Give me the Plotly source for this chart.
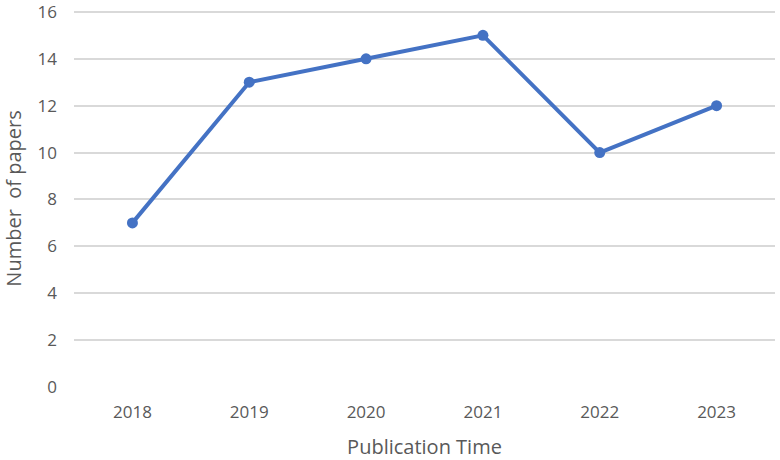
import plotly.graph_objects as go

years = ["2018", "2019", "2020", "2021", "2022", "2023"]
papers = [7, 13, 14, 15, 10, 12]

fig = go.Figure()
fig.add_trace(go.Scatter(
    x=years, y=papers, mode="lines+markers",
    line=dict(color="#4472C4", width=4),
    marker=dict(size=11, color="#4472C4"),
    showlegend=False,
))

fig.update_layout(
    width=780, height=460,
    margin=dict(l=74, r=5, t=10, b=73),
    paper_bgcolor="white", plot_bgcolor="white",
    font=dict(family="Open Sans, Liberation Sans, sans-serif", size=17, color="#595959"),
)
fig.update_xaxes(
    type="category", range=[-0.5, 5.5], automargin=False,
    showgrid=False, showline=False, zeroline=False,
    ticks="", ticklabelstandoff=13,
    title=dict(text="Publication Time", standoff=22, font=dict(size=20)),
)
# top slightly above 16 so the 16 gridline is still drawn
fig.update_yaxes(
    range=[0, 16.08], tickvals=[0, 2, 4, 6, 8, 10, 12, 14, 16],
    automargin=False, ticklabeloverflow="allow",
    showgrid=True, gridcolor="#d9d9d9", gridwidth=1.5,
    zeroline=False, showline=False, ticks="", ticklabelstandoff=16,
    title=dict(text="Number  of papers", standoff=10, font=dict(size=20)),
)

# drop the default body margin so the figure fills the window exactly
fig.write_html("out.html", config={"displayModeBar": False},
               post_script="document.body.style.margin='0';")
